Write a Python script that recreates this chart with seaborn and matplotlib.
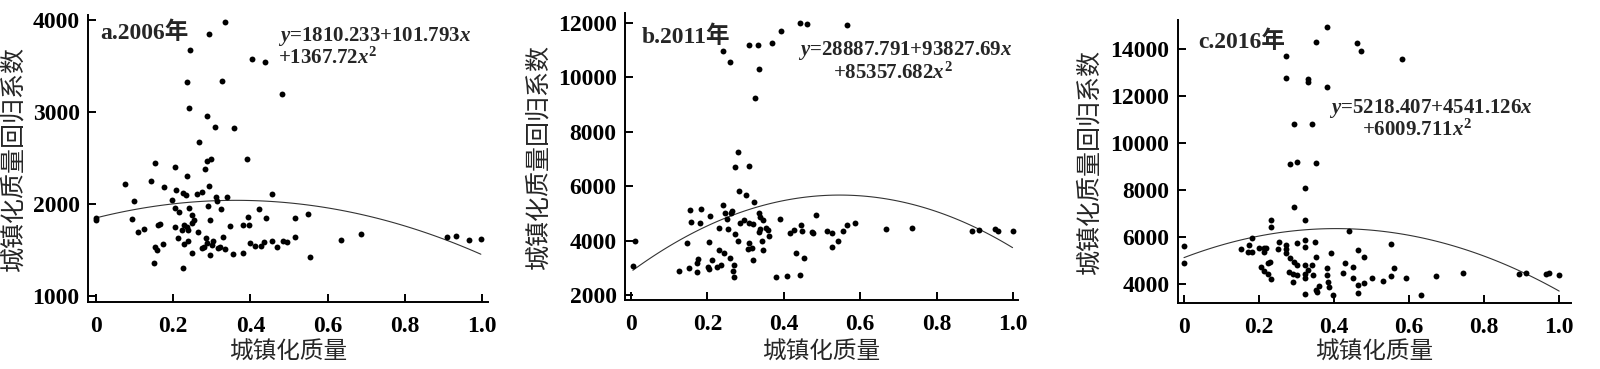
import numpy as np
import pandas as pd
import matplotlib
matplotlib.use("Agg")
import matplotlib.pyplot as plt
import seaborn as sns

# ==================================
# DATA
# ==================================

# a. 2006
x_2006 = [0.334, 0.294, 0.244, 0.403, 0.438, 0.237, 0.326, 0.481, 0.241, 0.288,
          0.307, 0.358, 0.268, 0.390, 0.297, 0.287, 0.153, 0.204, 0.282, 0.237,
          0.142, 0.076, 0.294, 0.175, 0.207, 0.226, 0.232, 0.274, 0.261, 0.311,
          0.340, 0.455, 0.099, 0.197, 0.314, 0.204, 0.291, 0.241, 0.324, 0.215,
          0.421, 0.550, 0.000, 0.000, 0.094, 0.248, 0.295, 0.395, 0.440, 0.515,
          0.255, 0.161, 0.166, 0.229, 0.250, 0.235, 0.239, 0.263, 0.347, 0.380,
          0.396, 0.124, 0.108, 0.205, 0.222, 0.328, 0.516, 0.634, 0.686, 0.908,
          0.933, 0.965, 0.997, 0.213, 0.239, 0.285, 0.304, 0.287, 0.399, 0.413,
          0.427, 0.436, 0.455, 0.485, 0.496, 0.470, 0.174, 0.153, 0.159, 0.228,
          0.274, 0.280, 0.301, 0.317, 0.321, 0.335, 0.250, 0.295, 0.356, 0.382,
          0.554, 0.149, 0.226]
y_2006 = [3975, 3844, 3674, 3576, 3540, 3322, 3337, 3196, 3040, 2960,
          2837, 2822, 2678, 2486, 2493, 2467, 2442, 2399, 2377, 2304,
          2250, 2221, 2192, 2185, 2156, 2123, 2098, 2127, 2105, 2080,
          2072, 2112, 2033, 2040, 2033, 1953, 1978, 1957, 1942, 1917,
          1942, 1891, 1844, 1826, 1833, 1880, 1826, 1855, 1844, 1848,
          1826, 1768, 1779, 1772, 1797, 1754, 1717, 1699, 1761, 1768,
          1768, 1725, 1699, 1754, 1717, 1645, 1645, 1609, 1674, 1645,
          1652, 1609, 1620, 1627, 1598, 1634, 1601, 1580, 1572, 1543,
          1547, 1591, 1598, 1598, 1587, 1529, 1565, 1529, 1500, 1562,
          1518, 1529, 1554, 1518, 1529, 1507, 1464, 1446, 1457, 1471,
          1420, 1355, 1308]

# b. 2011
x_2011 = [0.442, 0.462, 0.565, 0.393, 0.370, 0.310, 0.332, 0.240, 0.259, 0.334,
          0.324, 0.279, 0.272, 0.310, 0.283, 0.301, 0.323, 0.240, 0.154, 0.183,
          0.265, 0.245, 0.261, 0.484, 0.336, 0.338, 0.207, 0.390, 0.586, 0.156,
          0.180, 0.252, 0.285, 0.296, 0.310, 0.320, 0.345, 0.565, 0.667, 0.737,
          0.892, 0.912, 0.953, 0.962, 0.999, 0.231, 0.255, 0.353, 0.359, 0.339,
          0.427, 0.444, 0.449, 0.473, 0.514, 0.525, 0.554, 0.416, 0.477, 0.362,
          0.336, 0.272, 0.146, 0.205, 0.281, 0.308, 0.342, 0.543, 0.525, 0.307,
          0.316, 0.346, 0.231, 0.243, 0.432, 0.453, 0.259, 0.320, 0.211, 0.176,
          0.172, 0.270, 0.237, 0.202, 0.226, 0.153, 0.205, 0.125, 0.174, 0.266,
          0.270, 0.380, 0.408, 0.442, 0.005, 0.010]
y_2011 = [12000, 11951, 11914, 11694, 11266, 11180, 11180, 10972, 10568, 10323,
          9258, 7239, 6688, 6725, 5831, 5672, 5427, 5305, 5133, 5158,
          5097, 4999, 4999, 4938, 4999, 4876, 4901, 4779, 4632, 4693,
          4656, 4791, 4656, 4754, 4656, 4607, 4754, 4570, 4436, 4460,
          4362, 4387, 4411, 4362, 4350, 4448, 4411, 4472, 4387, 4411,
          4387, 4570, 4350, 4301, 4350, 4289, 4350, 4264, 4264, 4179,
          4301, 4228, 3922, 3958, 3995, 3922, 3995, 3995, 3775, 3677,
          3714, 3652, 3652, 3554, 3530, 3346, 3371, 3285, 3285, 3310,
          3163, 3102, 3102, 3040, 3040, 2979, 2942, 2894, 2857, 2894,
          2649, 2649, 2710, 2722, 3077, 4000]

# c. 2016
x_2016 = [0.381, 0.353, 0.462, 0.473, 0.273, 0.582, 0.273, 0.331, 0.331, 0.381,
          0.293, 0.342, 0.282, 0.301, 0.353, 0.322, 0.293, 0.233, 0.233, 0.322,
          0.441, 0.001, 0.001, 0.183, 0.174, 0.152, 0.171, 0.183, 0.202, 0.213,
          0.213, 0.220, 0.253, 0.251, 0.273, 0.273, 0.273, 0.301, 0.322, 0.324,
          0.351, 0.353, 0.393, 0.464, 0.481, 0.553, 0.207, 0.213, 0.225, 0.230,
          0.225, 0.233, 0.282, 0.280, 0.293, 0.301, 0.291, 0.303, 0.291, 0.324,
          0.324, 0.331, 0.342, 0.344, 0.322, 0.353, 0.360, 0.382, 0.382, 0.384,
          0.388, 0.399, 0.431, 0.424, 0.452, 0.452, 0.464, 0.464, 0.481, 0.502,
          0.532, 0.553, 0.561, 0.592, 0.672, 0.743, 0.894, 0.911, 0.965, 0.973,
          1.000, 0.632, 0.324, 0.355]
y_2016 = [14966, 14298, 14256, 13929, 13730, 13588, 12764, 12736, 12594, 12409,
          10818, 10804, 9114, 9185, 9142, 8077, 7267, 6727, 6443, 6727,
          6273, 5634, 4909, 5974, 5662, 5477, 5378, 5378, 5520, 5520,
          5378, 5520, 5776, 5477, 5662, 5477, 5335, 5733, 5591, 5875,
          5776, 5165, 5335, 5449, 5165, 5690, 4739, 4568, 4881, 4952,
          4412, 4213, 5094, 4526, 4952, 4810, 4412, 4384, 4099, 4810,
          4412, 4597, 4810, 4384, 4241, 3744, 3929, 4668, 4384, 4099,
          3886, 3531, 4909, 4483, 4739, 4241, 3957, 3631, 4057, 4241,
          4128, 4341, 4668, 4241, 4341, 4483, 4412, 4455, 4412, 4483,
          4384, 3531, 3574, 3673]

panel_labels = ["a.2006年", "b.2011年", "c.2016年"]
eq_line1 = ["$y$=1810.233+101.793$x$", "$y$=28887.791+93827.69$x$", "$y$=5218.407+4541.126$x$"]
eq_line2 = ["+1367.72$x^2$", "+85357.682$x^2$", "+6009.711$x^2$"]
y_ticks = [[1000, 2000, 3000, 4000],
           list(range(2000, 12001, 2000)),
           list(range(4000, 14001, 2000))]
x_ticks = [0, 0.2, 0.4, 0.6, 0.8, 1.0]
x_tick_labels = ["0", "0.2", "0.4", "0.6", "0.8", "1.0"]

# ==================================
# STYLE
# ==================================

sns.set_theme(style="ticks")
plt.rcParams["font.family"] = ["Liberation Serif", "Noto Sans CJK SC"]
plt.rcParams["font.weight"] = "bold"
plt.rcParams["mathtext.fontset"] = "custom"
plt.rcParams["mathtext.rm"] = "Liberation Serif:bold"
plt.rcParams["mathtext.it"] = "Liberation Serif:italic:bold"
plt.rcParams["mathtext.bf"] = "Liberation Serif:bold"

cjk = ["Noto Sans CJK SC", "DejaVu Sans"]

fig = plt.figure(figsize=(16, 3.69), dpi=100)

boxes = [[0.055, 0.1816, 0.250, 0.778],
         [0.3906, 0.187, 0.2456, 0.778],
         [0.736, 0.179, 0.246, 0.767]]
xlims = [(-0.0207, 1.0155), (-0.0157, 1.013), (-0.016, 1.032)]
ylims = [(935, 4054), (1816, 12370), (3190, 15250)]
ylabel_x = [-0.155, -0.186, -0.19]

# text positions in pixels (x, y from top)
title_pos = [(100, 33), (642, 37), (1198, 42)]
eq1_pos = [(278, 36), (798, 50), (1329, 108)]
eq2_pos = [(278, 58), (833, 73), (1362, 130)]
xlabel_y = 352  # pixel row of the x-axis title centre

datasets = [(x_2006, y_2006), (x_2011, y_2011), (x_2016, y_2016)]

for i, (xs, ys) in enumerate(datasets):
    df = pd.DataFrame({"q": xs, "coef": ys})
    ax = fig.add_axes(boxes[i])

    sns.scatterplot(data=df, x="q", y="coef", ax=ax, s=18, color="black",
                    linewidth=0, zorder=3)
    sns.regplot(data=df, x="q", y="coef", ax=ax, order=2, ci=None,
                scatter=False, truncate=True,
                line_kws={"color": "#333333", "linewidth": 0.8})

    ax.set_xlim(*xlims[i])
    ax.set_ylim(*ylims[i])
    ax.set_xticks(x_ticks)
    ax.set_xticklabels(x_tick_labels)
    ax.set_yticks(y_ticks[i])

    sns.despine(ax=ax)
    for sp in ["left", "bottom"]:
        ax.spines[sp].set_linewidth(1.4)
        ax.spines[sp].set_color("black")

    ax.tick_params(direction="in", length=6, width=1.4, labelsize=17,
                   colors="black")
    ax.tick_params(axis="x", pad=10)
    ax.tick_params(axis="y", pad=6)

    ax.set_xlabel("城镇化质量", fontsize=17, family=cjk, fontweight="medium")
    ax.set_ylabel("城镇化质量回归系数", fontsize=18, family=cjk,
                  fontweight="medium")
    ax.yaxis.set_label_coords(ylabel_x[i], 0.5)
    # place x title by its centre, measured in figure pixels
    ax.xaxis.label.set_verticalalignment("center")
    bx = boxes[i]
    ax.xaxis.set_label_coords(0.5, ((369 - xlabel_y) / 369 - bx[1]) / bx[3])

    tx, ty = title_pos[i]
    fig.text(tx / 1600, 1 - ty / 369, panel_labels[i], fontsize=17,
             va="center", ha="left", family=["Liberation Serif", "Noto Sans CJK SC"])
    ex, ey = eq1_pos[i]
    fig.text(ex / 1600, 1 - ey / 369, eq_line1[i], fontsize=15,
             va="center", ha="left")
    ex, ey = eq2_pos[i]
    fig.text(ex / 1600, 1 - ey / 369, eq_line2[i], fontsize=15,
             va="center", ha="left")

fig.savefig("out.png", dpi=100)
